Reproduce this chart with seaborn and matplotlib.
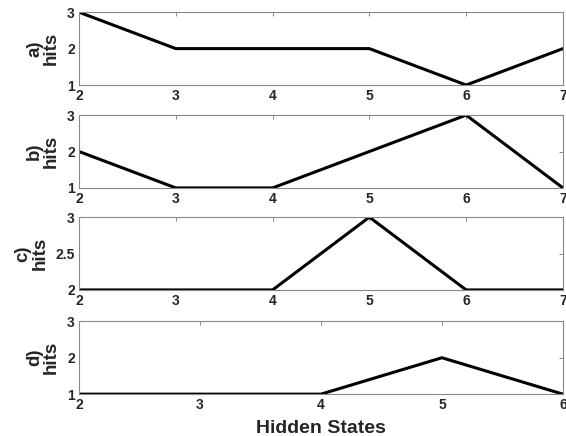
import matplotlib
matplotlib.use('Agg')
import matplotlib.pyplot as plt
import seaborn as sns
import pandas as pd

# hits per number of hidden states, one series per panel
states_a = [2, 3, 4, 5, 6, 7]
hits_a = [3, 2, 2, 2, 1, 2]
states_b = [2, 3, 4, 5, 6, 7]
hits_b = [2, 1, 1, 2, 3, 1]
states_c = [2, 3, 4, 5, 6, 7]
hits_c = [2, 2, 2, 3, 2, 2]
states_d = [2, 3, 4, 5, 6]
hits_d = [1, 1, 1, 2, 1]

panels = [
    ('a)', states_a, hits_a, [1, 2, 3], ['1', '2', '3']),
    ('b)', states_b, hits_b, [1, 2, 3], ['1', '2', '3']),
    ('c)', states_c, hits_c, [2, 2.5, 3], ['2', '2.5', '3']),
    ('d)', states_d, hits_d, [1, 2, 3], ['1', '2', '3']),
]

sns.set_theme(style='white')
plt.rcParams['font.family'] = ['Liberation Sans', 'DejaVu Sans']

fig = plt.figure(figsize=(5.66, 4.36), dpi=100)
bottoms = [0.805, 0.569, 0.335, 0.096]
for (tag, xs, ys, yt, ytl), b in zip(panels, bottoms):
    ax = fig.add_axes([0.1396, b, 0.855, 0.167])
    df = pd.DataFrame({'states': xs, 'hits': ys})
    sns.lineplot(data=df, x='states', y='hits', color='black', linewidth=2.2, ax=ax)
    ax.set_xlim(min(xs), max(xs))
    ax.set_ylim(yt[0], yt[-1])
    ax.set_xticks(xs)
    ax.set_xticklabels([str(x) for x in xs], fontsize=10, fontweight='bold')
    ax.set_yticks(yt)
    ax.set_yticklabels(ytl, fontsize=10, fontweight='bold')
    ax.tick_params(direction='in', length=3, width=0.6, color='#777777',
                   top=True, right=True, pad=3)
    for s in ax.spines.values():
        s.set_color('#888888')
        s.set_linewidth(0.8)
    ax.set_ylabel(tag + '\nhits', fontsize=13.5, fontweight='bold', labelpad=5,
                  linespacing=1.0)
    ax.set_xlabel('')

ax.set_xlabel('Hidden States', fontsize=14, fontweight='bold', va='center')
ax.xaxis.set_label_coords(0.5, -0.466)
fig.savefig('out.png', dpi=100)
